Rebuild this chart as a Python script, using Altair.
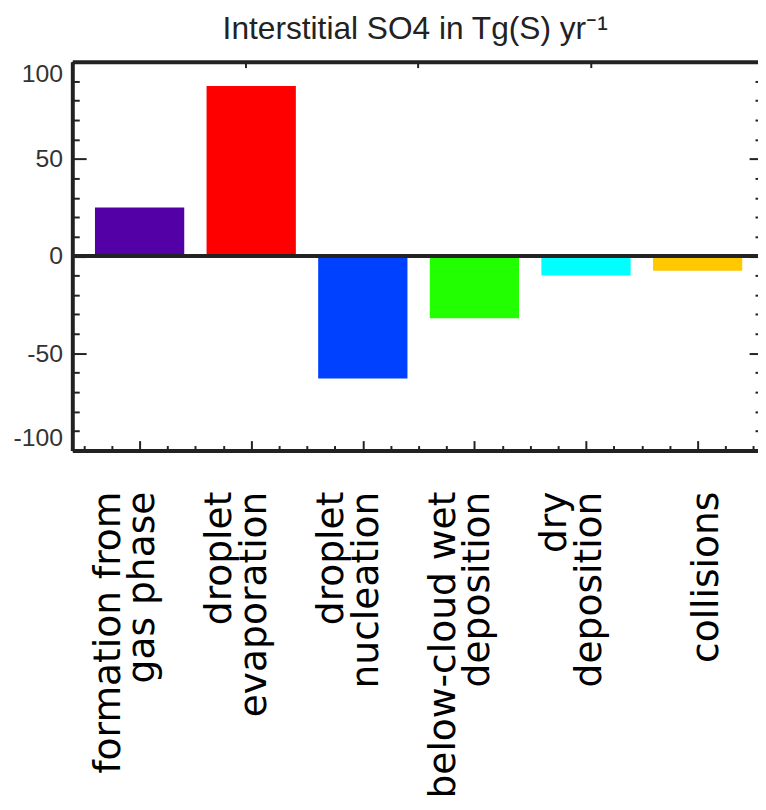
import altair as alt
import pandas as pd

categories = [
    "formation from\ngas phase",
    "droplet\nevaporation",
    "droplet\nnucleation",
    "below-cloud wet\ndeposition",
    "dry\ndeposition",
    "collisions",
]
values = [25, 87.5, -63, -32, -10, -7.5]
colors = ["#5300A6", "#FF0000", "#0041FF", "#22FF00", "#00FFFF", "#FFC800"]

y_ticks_major = [-100, -50, 0, 50, 100]
y_ticks_all = list(range(-100, 101, 10))
x_ticks_bottom = [i / 4 for i in range(-2, 23)]
x_ticks_top = [0, 1, 2, 3]

W, H = 693, 393
INK = "#222222"
ydom = alt.Scale(domain=[-100, 100], nice=False, zero=False)

df = pd.DataFrame({"process": categories, "value": values})

bars = alt.Chart(df).mark_bar().encode(
    x=alt.X(
        "process:N",
        sort=categories,
        scale=alt.Scale(paddingInner=0.2, paddingOuter=0.172, align=0.59),
        axis=alt.Axis(
            orient="bottom",
            title=None,
            ticks=False,
            tickSize=0,
            domain=True,
            domainColor=INK,
            domainWidth=4,
            labelAngle=270,
            labelAlign="right",
            labelBaseline="middle",
            labelPadding=41,
            labelFont="DejaVu Sans",
            labelFontSize=38,
            labelLineHeight=35,
            labelColor="#000000",
            labelLimit=2000,
            labelOverlap=False,
            labelExpr="split(datum.label, '\\n')",
            labelOffset={"condition": {"test": "indexof(datum.value, '\\n') >= 0", "value": -31}, "value": 10},
        ),
    ),
    y=alt.Y(
        "value:Q",
        scale=ydom,
        axis=alt.Axis(
            orient="left",
            title=None,
            values=y_ticks_major,
            ticks=False,
            tickSize=0,
            domain=True,
            domainColor=INK,
            domainWidth=4,
            grid=False,
            labelFlush=True,
            labelPadding=10,
            labelFont="Liberation Sans",
            labelFontSize=25,
            labelColor="#333333",
            labelExpr="'' + datum.value",
        ),
    ),
    color=alt.Color("process:N", scale=alt.Scale(domain=categories, range=colors), legend=None),
)

zero = alt.Chart(df).mark_rule(color=INK, strokeWidth=3).encode(
    y=alt.YDatum(
        0,
        type="quantitative",
        scale=ydom,
        axis=alt.Axis(
            orient="right",
            offset=-W,
            title=None,
            values=y_ticks_all,
            labels=False,
            domain=False,
            grid=False,
            ticks=True,
            tickColor=INK,
            tickWidth=2,
            tickSize={"condition": {"test": "datum.value % 50 === 0", "value": 14}, "value": 7},
        ),
    )
)

frame_a = alt.Chart(df).mark_point(opacity=0).encode(
    x=alt.XDatum(
        0,
        type="quantitative",
        scale=alt.Scale(domain=[-0.603, 5.541], nice=False, zero=False),
        axis=alt.Axis(
            orient="top",
            offset=-H,
            title=None,
            values=x_ticks_bottom,
            labels=False,
            domain=False,
            grid=False,
            tickColor=INK,
            tickWidth=2,
            tickSize={"condition": {"test": "datum.value % 1 === 0", "value": 10}, "value": 5},
        ),
    ),
    y=alt.YDatum(
        0,
        type="quantitative",
        scale=ydom,
        axis=alt.Axis(
            orient="left",
            offset=-W,
            title=None,
            values=y_ticks_all,
            labels=False,
            domain=False,
            grid=False,
            tickColor=INK,
            tickWidth=2,
            tickSize={"condition": {"test": "datum.value % 50 === 0", "value": 9}, "value": 3},
        ),
    ),
)

frame_b = alt.Chart(df).mark_point(opacity=0).encode(
    x=alt.XDatum(
        0,
        type="quantitative",
        scale=alt.Scale(domain=[0, 3.97], nice=False, zero=False),
        axis=alt.Axis(
            orient="bottom",
            offset=-H,
            title=None,
            values=x_ticks_top,
            labels=False,
            domain=True,
            domainColor=INK,
            domainWidth=4,
            grid=False,
            tickColor=INK,
            tickWidth=2,
            tickSize=6,
        ),
    ),
    y=alt.YDatum(0, type="quantitative", scale=ydom, axis=None),
)

chart = (
    alt.layer(bars, zero, frame_a, frame_b)
    .resolve_scale(x="independent")
    .resolve_axis(x="independent", y="independent")
    .properties(
        width=W,
        height=H,
        padding={"left": 65, "top": 50, "right": 0, "bottom": 351},
        autosize=alt.AutoSizeParams(type="none"),
        title=alt.TitleParams(
            text="Interstitial SO4 in Tg(S) yr\u207b\u00b9",
            font="Liberation Sans",
            fontSize=32,
            fontWeight="normal",
            color=INK,
            anchor="middle",
            frame="group",
            baseline="alphabetic",
            offset=17,
            dy=27,
        ),
    )
    .configure_view(stroke=None)
    .configure_axis(grid=False)
)

chart.save("out.html", embed_options={"renderer": "svg", "actions": False})
